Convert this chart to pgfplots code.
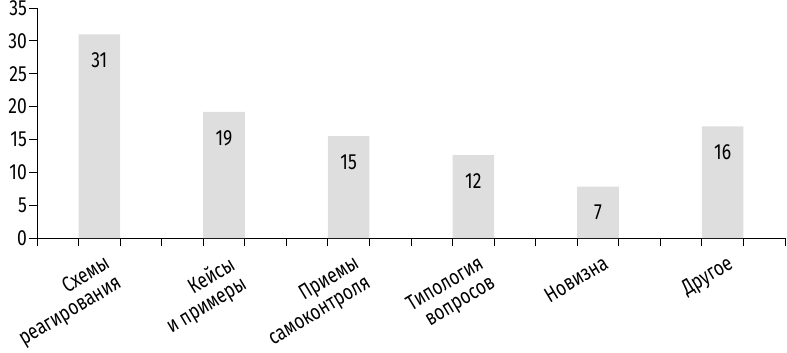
\documentclass[border=0pt]{standalone}
\usepackage{fontspec}
\setmainfont{Fira Sans}[FakeStretch=0.8]
\usepackage{pgfplots}
\pgfplotsset{compat=1.18}
\definecolor{bargray}{RGB}{222,222,222}
\begin{document}
\fontsize{22}{23}\selectfont
\begin{tikzpicture}
\begin{axis}[
  at={(0,0)}, anchor=origin,
  scale only axis, width=748bp, height=230bp,
  xmin=0, xmax=18, ymin=0, ymax=35,
  axis lines=left, axis line style={-, black, line width=0.9pt},
  xtick={0,...,18}, xticklabels={},
  extra x ticks={1.5,4.5,7.5,10.5,13.5,16.5},
  extra x tick labels={Схемы\\реагирования, Кейсы\\и примеры, Приемы\\самоконтроля, Типология\\вопросов, Новизна, Другое},
  extra x tick style={major tick length=0pt, tick label style={rotate=31, anchor=north east, align=right, inner sep=1pt, yshift=-15bp, xshift=-4bp, font=\fontsize{21.5}{22.5}\selectfont}},
  ytick={0,5,...,35},
  tick align=outside, major tick length=8bp,
  tick style={black, line width=0.9pt},
  y tick label style={font=\fontsize{22}{23}\selectfont, inner sep=2pt},
  /pgf/number format/assume math mode=true,
  clip=false,
  nodes near coords, point meta=explicit symbolic,
  nodes near coords style={anchor=center, yshift=-26bp, font=\fontsize{22}{23}\selectfont, black},
]
\addplot[ybar, bar width=1, bar shift=0pt, fill=bargray, draw=none] coordinates {
  (1.5,31.0) [31]
  (4.5,19.2) [19]
  (7.5,15.5) [15]
  (10.5,12.6) [12]
  (13.5,7.8) [7]
  (16.5,17.0) [16]
};
\end{axis}
\pgfresetboundingbox
\path[use as bounding box] (-37bp,-115bp) rectangle (750bp,238bp);
\end{tikzpicture}
\end{document}
